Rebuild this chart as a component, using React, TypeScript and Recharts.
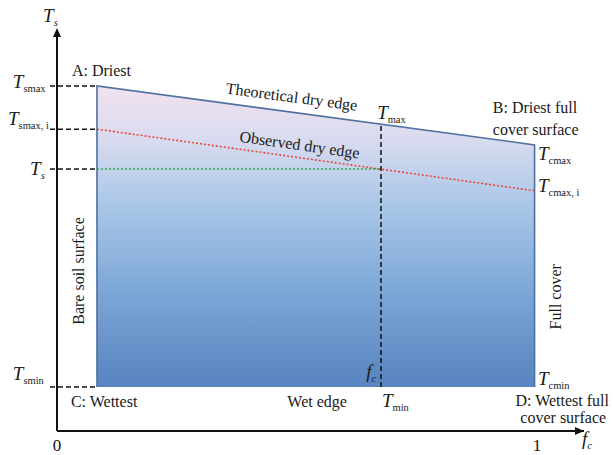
import React from "react";
import {
    ComposedChart,
    Area,
    Line,
    Scatter,
    XAxis,
    YAxis,
    ReferenceLine,
    ReferenceDot,
} from "recharts";

// vegetation cover fraction (x) and surface temperature levels (y, arbitrary units)
const fcBare = 0.0833;
const fcFull = 0.995;
const fcPixel = 0.675;
const tsMax = 85.6;
const tcMax = 71.0;
const tsMaxI = 74.9;
const tcMaxI = 59.6;
const tsPixel = 65.0;
const tMin = 10.9;
const tMaxAtPixel = 76.1;

const xTicks = [0, 1];

const trapezoid = [
    { x: fcBare, top: tsMax },
    { x: fcFull, top: tcMax },
];
const outline = [
    { x: fcBare, y: tMin },
    { x: fcBare, y: tsMax },
    { x: fcFull, y: tcMax },
    { x: fcFull, y: tMin },
];
const observedEdge = [
    { x: fcBare, y: tsMaxI },
    { x: fcFull, y: tcMaxI },
];
const leftLevels = [tsMax, tsMaxI, tsPixel, tMin];
const arrowTips = [
    { x: 0, y: 100, dir: "up" },
    { x: 1.098, y: 0, dir: "right" },
];

const SERIF = "Liberation Serif, DejaVu Serif, serif";

const sym = (main: string, sub: string, subItalic = false) => [
    <tspan key="m" fontStyle="italic" fontSize={19}>
        {main}
    </tspan>,
    <tspan key="s" fontStyle={subItalic ? "italic" : "normal"} fontSize={10.5} dy={4}>
        {sub}
    </tspan>,
];

function note(
    key: string,
    x: number,
    y: number,
    content: React.ReactNode,
    anchor: "start" | "middle" | "end" = "start",
    rotate = 0
) {
    return (
        <ReferenceDot
            key={key}
            x={x}
            y={y}
            r={0}
            ifOverflow="visible"
            shape={(p: any) => (
                <text
                    x={p.cx}
                    y={p.cy}
                    textAnchor={anchor}
                    fontFamily={SERIF}
                    fontSize={16}
                    fill="#1a1a1a"
                    transform={rotate ? `rotate(${rotate} ${p.cx} ${p.cy})` : undefined}
                >
                    {content}
                </text>
            )}
        />
    );
}

const arrowHead = (p: any) => {
    const { cx, cy } = p;
    const pts =
        p.payload && p.payload.dir === "up"
            ? `${cx},${cy} ${cx - 4},${cy + 9} ${cx + 4},${cy + 9}`
            : `${cx},${cy} ${cx - 9},${cy - 4} ${cx - 9},${cy + 4}`;
    return <polygon points={pts} fill="#111" />;
};

export default function App() {
    const dash = "5 3";
    return (
        <div style={{ position: "absolute", left: 0, top: 0, fontFamily: SERIF }}>
            <ComposedChart
                width={613}
                height={455}
                margin={{ top: 28, right: 29, bottom: 0, left: 57 }}
            >
                <defs>
                    <linearGradient id="trapFill" x1="0" y1="0" x2="0" y2="1">
                        <stop offset="0%" stopColor="#f3e2ef" />
                        <stop offset="18%" stopColor="#d8dbef" />
                        <stop offset="40%" stopColor="#a9c6e7" />
                        <stop offset="70%" stopColor="#79a5d6" />
                        <stop offset="100%" stopColor="#5884c0" />
                    </linearGradient>
                </defs>
                <XAxis
                    type="number"
                    dataKey="x"
                    domain={[0, 1.098]}
                    ticks={xTicks}
                    axisLine={{ stroke: "#111", strokeWidth: 2 }}
                    tickLine={false}
                    tickSize={6}
                    tickMargin={2}
                    height={24}
                    tick={{ fontFamily: SERIF, fontSize: 17, fill: "#111" }}
                />
                <YAxis type="number" dataKey="y" domain={[0, 100]} hide />

                <Area
                    data={trapezoid}
                    dataKey="top"
                    type="linear"
                    baseValue={tMin}
                    fill="url(#trapFill)"
                    fillOpacity={1}
                    stroke="none"
                    isAnimationActive={false}
                />
                <Line
                    data={outline}
                    dataKey="y"
                    type="linear"
                    stroke="#50709f"
                    strokeWidth={1.6}
                    dot={false}
                    isAnimationActive={false}
                />
                <Line
                    data={observedEdge}
                    dataKey="y"
                    type="linear"
                    stroke="#e8473d"
                    strokeWidth={1.6}
                    strokeDasharray="2 2"
                    dot={false}
                    isAnimationActive={false}
                />
                <ReferenceLine
                    segment={[
                        { x: 0, y: 0 },
                        { x: 0, y: 97.8 },
                    ]}
                    stroke="#111"
                    strokeWidth={2}
                    ifOverflow="visible"
                />
                <ReferenceLine
                    segment={[
                        { x: fcBare, y: tsPixel },
                        { x: fcPixel, y: tsPixel },
                    ]}
                    stroke="#3aa64a"
                    strokeWidth={1.6}
                    strokeDasharray="2 2"
                    ifOverflow="visible"
                />
                <ReferenceLine
                    segment={[
                        { x: fcPixel, y: tMin },
                        { x: fcPixel, y: tMaxAtPixel },
                    ]}
                    stroke="#111"
                    strokeWidth={1.5}
                    strokeDasharray={dash}
                    ifOverflow="visible"
                />
                {leftLevels.map((v) => (
                    <ReferenceLine
                        key={v}
                        segment={[
                            { x: -0.0146, y: v },
                            { x: fcBare, y: v },
                        ]}
                        stroke="#111"
                        strokeWidth={1.5}
                        strokeDasharray={dash}
                        ifOverflow="visible"
                    />
                ))}
                <Scatter
                    data={arrowTips}
                    dataKey="y"
                    shape={arrowHead}
                    isAnimationActive={false}
                />

                {note("ts-axis", -0.029, 101.5, sym("T", "s", true))}
                {note("a", 0.031, 88.1, "A: Driest")}
                {note("tsmax", -0.092, 85.1, sym("T", "smax"))}
                {note("tsmaxi", -0.102, 75.9, sym("T", "smax, i"))}
                {note("ts", -0.056, 63.5, sym("T", "s", true))}
                {note("tsmin", -0.092, 12.7, sym("T", "smin"))}
                {note("theo", 0.4875, 81.6, "Theoretical dry edge", "middle", 7.5)}
                {note("obs", 0.504, 69.7, "Observed dry edge", "middle", 8)}
                {note("tmax", 0.667, 77.4, sym("T", "max"))}
                {note("b1", 0.908, 78.9, "B: Driest full")}
                {note("b2", 0.908, 73.4, "cover surface")}
                {note("tcmax", 1.002, 67.2, sym("T", "cmax"))}
                {note("tcmaxi", 1.002, 59.3, sym("T", "cmax, i"))}
                {note("bare", 0.056, 39.7, "Bare soil surface", "middle", -90)}
                {note("full", 1.05, 33.3, "Full cover", "middle", -90)}
                {note("fc", 0.665, 13.2, sym("f", "c", true), "end")}
                {note("tcmin", 1.002, 11.4, sym("T", "cmin"))}
                {note("c", 0.029, 6.0, "C: Wettest")}
                {note("wet", 0.604, 6.0, "Wet edge", "end")}
                {note("tmin", 0.677, 6.0, sym("T", "min"))}
                {note("d1", 1.15, 6.2, "D: Wettest full", "end")}
                {note("d2", 1.144, 2.0, "cover surface", "end")}
                {note("fc-axis", 1.094, -3.5, sym("f", "c", true))}
            </ComposedChart>
        </div>
    );
}
